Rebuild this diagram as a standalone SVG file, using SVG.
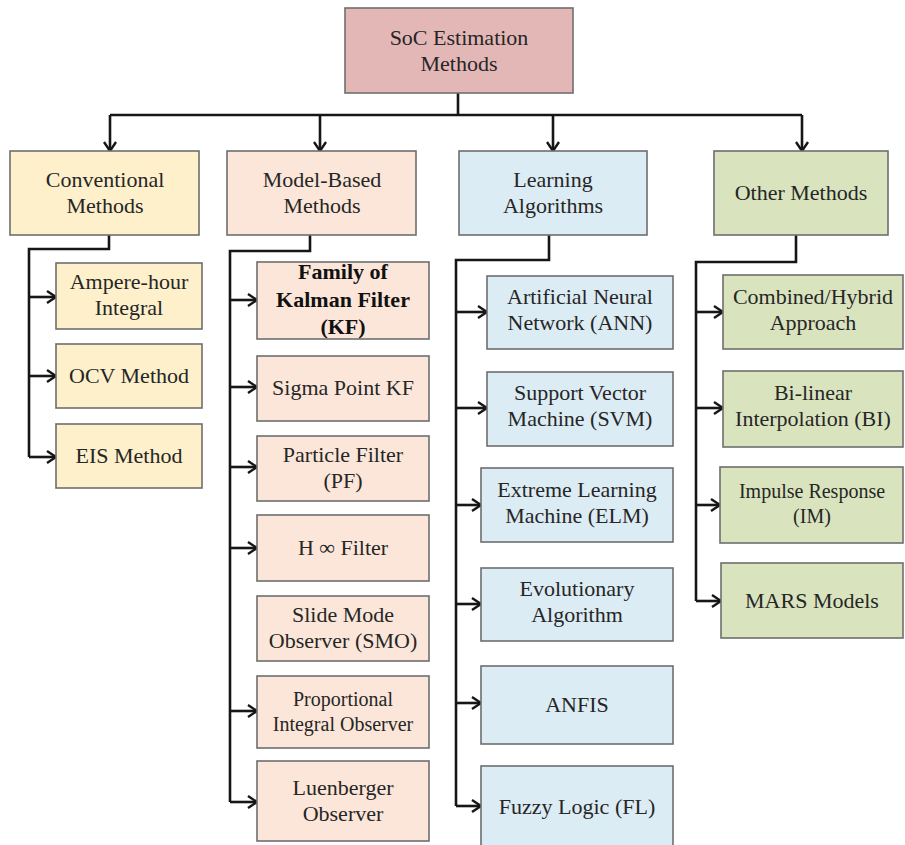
<svg xmlns="http://www.w3.org/2000/svg" width="905" height="845" viewBox="0 0 905 845">
<defs>
<style>
.t{font-family:"Liberation Serif","Times New Roman",serif;font-size:22px;fill:#262626;text-anchor:middle}
.b{font-weight:bold;fill:#111}
.s{font-size:20px}
rect{stroke:#6e6e6e;stroke-width:1.6}
.root{fill:#e4b7b7}
.conv{fill:#fdf0cb}
.model{fill:#fbe6d9}
.learn{fill:#dcecf4}
.other{fill:#d9e4bf}
.c{fill:none;stroke:#161616;stroke-width:2.6;stroke-linejoin:miter}
.a{marker-end:url(#arr)}
</style>
<marker id="arr" viewBox="0 0 11 14" refX="10" refY="7" markerWidth="11" markerHeight="14" markerUnits="userSpaceOnUse" orient="auto">
<path d="M1,1 L10,7 L1,13" fill="none" stroke="#161616" stroke-width="2.4"/>
</marker>
</defs>
<rect width="905" height="845" fill="#ffffff" style="stroke:none"/>

<g id="connectors">
<path class="c" d="M458,93 V115 M110,115 H802"/>
<path class="c a" d="M110,115 V151"/>
<path class="c a" d="M320,115 V151"/>
<path class="c a" d="M553,115 V151"/>
<path class="c a" d="M802,115 V151"/>

<path class="c" d="M109,235 V249 H29 V457"/>
<path class="c a" d="M29,297 H56"/>
<path class="c a" d="M29,376 H56"/>
<path class="c a" d="M29,457 H56"/>

<path class="c" d="M310,235 V251 H230 V802"/>
<path class="c a" d="M230,300 H257"/>
<path class="c a" d="M230,387 H257"/>
<path class="c a" d="M230,467 H257"/>
<path class="c a" d="M230,548 H257"/>
<path class="c a" d="M230,711 H257"/>
<path class="c a" d="M230,802 H257"/>

<path class="c" d="M549,235 V260 H456 V806"/>
<path class="c a" d="M456,312 H487"/>
<path class="c a" d="M456,408 H487"/>
<path class="c a" d="M456,505 H481"/>
<path class="c a" d="M456,604 H481"/>
<path class="c a" d="M456,703 H481"/>
<path class="c a" d="M456,806 H481"/>

<path class="c" d="M796,235 V262 H696 V601"/>
<path class="c a" d="M696,312 H723"/>
<path class="c a" d="M696,408 H723"/>
<path class="c a" d="M696,505 H720"/>
<path class="c a" d="M696,601 H721"/>
</g>

<g id="root"><rect class="root" x="345" y="8" width="228" height="85"/>
<text class="t" x="459" y="45">SoC Estimation</text><text class="t" x="459" y="71">Methods</text></g>

<g id="conventional"><rect class="conv" x="10" y="151" width="189" height="84"/>
<text class="t" x="105" y="187">Conventional</text><text class="t" x="105" y="213">Methods</text></g>
<g id="model-based"><rect class="model" x="227" y="151" width="189" height="84"/>
<text class="t" x="322" y="187">Model-Based</text><text class="t" x="322" y="213">Methods</text></g>
<g id="learning"><rect class="learn" x="459" y="151" width="188" height="84"/>
<text class="t" x="553" y="187">Learning</text><text class="t" x="553" y="213">Algorithms</text></g>
<g id="other"><rect class="other" x="714" y="151" width="174" height="84"/>
<text class="t" x="801" y="200">Other Methods</text></g>

<g id="ampere"><rect class="conv" x="56" y="263" width="146" height="66"/>
<text class="t" x="129" y="289">Ampere-hour</text><text class="t" x="129" y="315">Integral</text></g>
<g id="ocv"><rect class="conv" x="56" y="344" width="146" height="64"/>
<text class="t" x="129" y="383">OCV Method</text></g>
<g id="eis"><rect class="conv" x="56" y="424" width="146" height="64"/>
<text class="t" x="129" y="463">EIS Method</text></g>

<g id="kf"><rect class="model" x="257" y="262" width="172" height="77"/>
<text class="t b" x="343" y="279">Family of</text><text class="t b" x="343" y="307">Kalman Filter</text><text class="t b" x="343" y="334">(KF)</text></g>
<g id="spkf"><rect class="model" x="257" y="356" width="172" height="65"/>
<text class="t" x="343" y="395">Sigma Point KF</text></g>
<g id="pf"><rect class="model" x="257" y="436" width="172" height="65"/>
<text class="t" x="343" y="462">Particle Filter</text><text class="t" x="343" y="488">(PF)</text></g>
<g id="hinf"><rect class="model" x="257" y="515" width="172" height="66"/>
<text class="t" x="343" y="555">H ∞ Filter</text></g>
<g id="smo"><rect class="model" x="257" y="596" width="172" height="65"/>
<text class="t" x="343" y="622">Slide Mode</text><text class="t" x="343" y="648">Observer (SMO)</text></g>
<g id="pi"><rect class="model" x="257" y="676" width="172" height="72"/>
<text class="t s" x="343" y="706">Proportional</text><text class="t s" x="343" y="731">Integral Observer</text></g>
<g id="luenberger"><rect class="model" x="257" y="761" width="172" height="80"/>
<text class="t" x="343" y="795">Luenberger</text><text class="t" x="343" y="821">Observer</text></g>

<g id="ann"><rect class="learn" x="487" y="276" width="186" height="73"/>
<text class="t" x="580" y="304">Artificial Neural</text><text class="t" x="580" y="330">Network (ANN)</text></g>
<g id="svm"><rect class="learn" x="487" y="372" width="186" height="74"/>
<text class="t" x="580" y="400">Support Vector</text><text class="t" x="580" y="426">Machine (SVM)</text></g>
<g id="elm"><rect class="learn" x="481" y="468" width="192" height="74"/>
<text class="t" x="577" y="497">Extreme Learning</text><text class="t" x="577" y="523">Machine (ELM)</text></g>
<g id="evo"><rect class="learn" x="481" y="568" width="192" height="73"/>
<text class="t" x="577" y="596">Evolutionary</text><text class="t" x="577" y="622">Algorithm</text></g>
<g id="anfis"><rect class="learn" x="481" y="666" width="192" height="78"/>
<text class="t" x="577" y="712">ANFIS</text></g>
<g id="fl"><rect class="learn" x="481" y="766" width="192" height="90"/>
<text class="t" x="577" y="814">Fuzzy Logic (FL)</text></g>

<g id="hybrid"><rect class="other" x="723" y="275" width="180" height="74"/>
<text class="t" x="813" y="304">Combined/Hybrid</text><text class="t" x="813" y="330">Approach</text></g>
<g id="bi"><rect class="other" x="723" y="371" width="180" height="76"/>
<text class="t" x="813" y="400">Bi-linear</text><text class="t" x="813" y="426">Interpolation (BI)</text></g>
<g id="im"><rect class="other" x="720" y="467" width="183" height="76"/>
<text class="t s" x="812" y="498">Impulse Response</text><text class="t s" x="812" y="523">(IM)</text></g>
<g id="mars"><rect class="other" x="721" y="563" width="182" height="75"/>
<text class="t" x="812" y="608">MARS Models</text></g>
</svg>
